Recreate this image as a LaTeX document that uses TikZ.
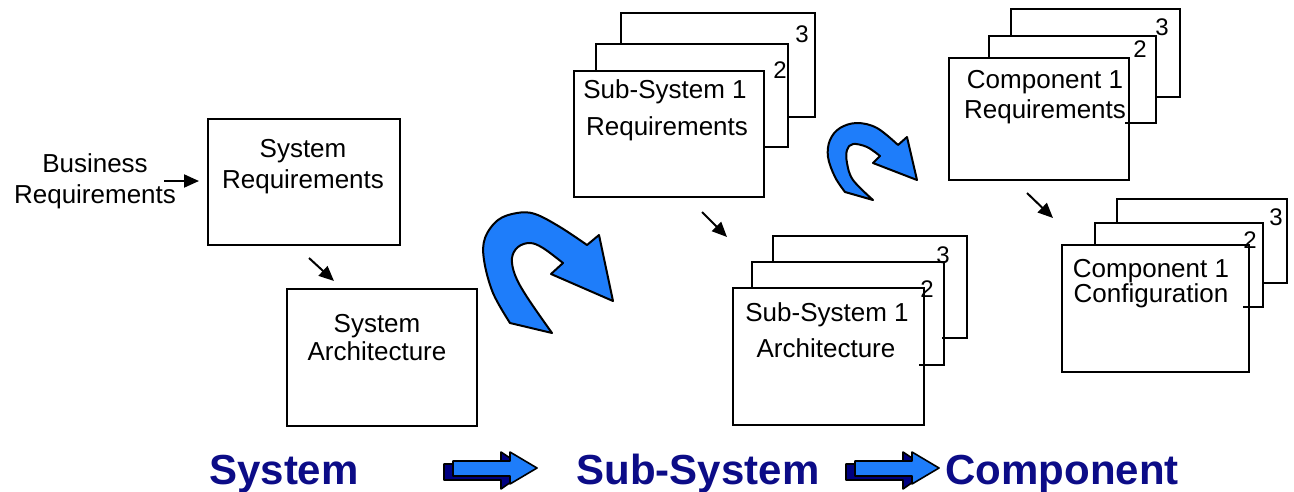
\documentclass[tikz,border=0pt]{standalone}
\usepackage{fontspec}
\setmainfont{Liberation Sans}
\usetikzlibrary{arrows.meta}
\definecolor{flowblue}{RGB}{30,125,250}
\definecolor{navyside}{RGB}{0,0,128}
\definecolor{titlenavy}{RGB}{12,12,135}

\begin{document}
\begin{tikzpicture}[x=1pt,y=-1pt,
  frontbox/.style={draw=black, line width=2pt, fill=white, inner sep=0pt},
  backpage/.style={draw=black, line width=2pt, line join=miter},
  txt/.style={font=\fontsize{26}{31}\selectfont, inner sep=0pt, anchor=base},
  num/.style={font=\fontsize{24}{28}\selectfont, inner sep=0pt, anchor=base},
  stage/.style={font=\fontsize{42}{48}\selectfont\bfseries, text=titlenavy, inner sep=0pt, anchor=base},
  smallarrow/.style={line width=2pt, -{Triangle[length=15pt,width=13pt]}},
  bendarrow/.style={fill=flowblue, draw=black, line width=2pt, line join=round},
  blockside/.style={fill=navyside, draw=black, line width=1.6pt, line join=round},
  blockface/.style={fill=flowblue, draw=black, line width=1.6pt, line join=round}]

\useasboundingbox (0,0) rectangle (1294,491);

% ---- System level ----
\node[frontbox, minimum width=192pt, minimum height=126pt] (sysreq) at (304,182) {};
\node[frontbox, minimum width=190pt, minimum height=137pt] (sysarch) at (382,357.5) {};
\node[txt] (bus1) at (95,172) {Business};
\node[txt] (bus2) at (95,203) {Requirements};
\node[txt] (sr1) at (303,157) {System};
\node[txt] (sr2) at (303,188) {Requirements};
\node[txt] (sa1) at (377,332) {System};
\node[txt] (sa2) at (377,360) {Architecture};

\coordinate (busS) at (164,181);
\coordinate (busE) at (199,181);
\draw[smallarrow] (busS) -- (busE);
\coordinate (sysS) at (309,258);
\coordinate (sysE) at (334,281);
\draw[smallarrow] (sysS) -- (sysE);

% ---- Sub-system requirements (stack of three) ----
\node[frontbox, minimum width=190pt, minimum height=126pt] (ssreq) at (669,134) {};
\draw[backpage] (596,71) -- (596,44) -- (788,44) -- (788,147) -- (764,147);
\draw[backpage] (621,44) -- (621,13) -- (815,13) -- (815,117) -- (788,117);
\node[txt] (ssr1) at (665,98) {Sub-System 1};
\node[txt] (ssr2) at (667,135) {Requirements};
\node[num] (ssrn2) at (780,78) {2};
\node[num] (ssrn3) at (802,42) {3};

% ---- Sub-system architecture (stack of three) ----
\node[frontbox, minimum width=191pt, minimum height=137pt] (ssarch) at (828.5,356.5) {};
\draw[backpage] (752,288) -- (752,262) -- (944,262) -- (944,365) -- (919,365);
\draw[backpage] (773,262) -- (773,236) -- (967,236) -- (967,338) -- (942,338);
\node[txt] (ssa1) at (827,321) {Sub-System 1};
\node[txt] (ssa2) at (826,357) {Architecture};
\node[num] (ssan2) at (927,297) {2};
\node[num] (ssan3) at (943,263) {3};

\coordinate (ssS) at (702,212);
\coordinate (ssE) at (727,237);
\draw[smallarrow] (ssS) -- (ssE);

% ---- Component requirements (stack of three) ----
\node[frontbox, minimum width=180pt, minimum height=122pt] (compreq) at (1039,119) {};
\draw[backpage] (989,58) -- (989,36) -- (1156,36) -- (1156,123) -- (1125,123);
\draw[backpage] (1011,36) -- (1011,9) -- (1180,9) -- (1180,97) -- (1156,97);
\node[txt] (cr1) at (1045,88) {Component 1};
\node[txt] (cr2) at (1045,118) {Requirements};
\node[num] (crn2) at (1140,57) {2};
\node[num] (crn3) at (1162,35) {3};

% ---- Component configuration (stack of three) ----
\node[frontbox, minimum width=187pt, minimum height=127pt] (compcfg) at (1155.5,308.5) {};
\draw[backpage] (1095,245) -- (1095,223) -- (1263,223) -- (1263,307) -- (1243,307);
\draw[backpage] (1117,223) -- (1117,199) -- (1287,199) -- (1287,283) -- (1263,283);
\node[txt] (cc1) at (1151,277) {Component 1};
\node[txt] (cc2) at (1151,302) {Configuration};
\node[num] (ccn2) at (1250,248) {2};
\node[num] (ccn3) at (1276,225) {3};

\coordinate (cS) at (1027,193);
\coordinate (cE) at (1053,218);
\draw[smallarrow] (cS) -- (cE);

% ---- Curved hand-over arrows ----
\filldraw[bendarrow]
  plot[smooth, tension=0.6] coordinates {(510,323) (493,293) (484,260) (485,238) (498,220) (517,213) (535,214) (560,227) (587,245)}
  -- (599,235) -- (613,301) -- (551,274) -- (563,263)
  -- plot[smooth, tension=0.6] coordinates {(563,263) (543,248) (530,243) (518,247) (512,258) (515,275) (527,297) (552,333)}
  -- cycle;

\filldraw[bendarrow]
  plot[smooth, tension=0.6] coordinates {(845,192) (835,177) (828,157) (830,140) (840,128) (857,123) (877,128) (898,145)}
  -- (907,137) -- (917,180) -- (873,163) -- (880,156)
  -- plot[smooth, tension=0.6] coordinates {(880,156) (867,147) (853,144) (847,150) (847,163) (853,180) (873,200)}
  -- cycle;

% ---- Stage labels and block arrows ----
\node[stage] (stSys) at (284,484) {System};
\node[stage] (stSub) at (698,484) {Sub-System};
\node[stage] (stComp) at (1062,484) {Component};

\foreach \dx in {0,402} {
  \begin{scope}[shift={(\dx,0)}]
    \filldraw[blockside] (444,464) -- (501,464) -- (501,452) -- (528,470) -- (501,489) -- (501,480) -- (444,480) -- cycle;
    \filldraw[blockface] (453,461) -- (510,461) -- (510,452) -- (537,468) -- (510,484) -- (510,476) -- (453,476) -- cycle;
  \end{scope}
}
\end{tikzpicture}
\end{document}
